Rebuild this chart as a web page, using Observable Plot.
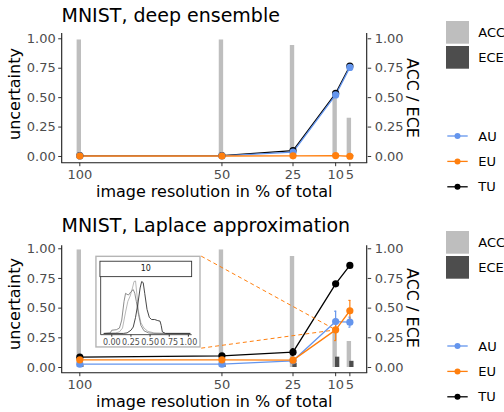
<!DOCTYPE html>
<html><head><meta charset="utf-8">
<script src="https://cdn.jsdelivr.net/npm/d3@7"></script>
<script src="https://cdn.jsdelivr.net/npm/@observablehq/plot@0.6"></script>
<style>
body{margin:0;background:#fff;font-family:"DejaVu Sans",sans-serif;}
#wrap{position:relative;width:504px;height:412px;overflow:hidden;background:#fff;}
#wrap svg.panel{position:absolute;left:0;}
</style></head><body><div id="wrap"></div>
<script>
// ---------- data ----------
const resolution = [100, 50, 25, 10, 5];
const yTicks = [0, 0.25, 0.5, 0.75, 1];
const keys = ["AU", "EU", "TU"];
const keyColors = ["#6495ed", "#ff7f0e", "#000000"];

// MNIST, deep ensemble
const ensAU = [0.005, 0.005, 0.037, 0.523, 0.757];
const ensEU = [0.004, 0.004, 0.006, 0.008, 0.002];
const ensTU = [0.007, 0.008, 0.05, 0.536, 0.769];
const ensACC = [0.99, 0.99, 0.943, 0.51, 0.325];
const ensECE = [0.003, 0.003, 0.004, 0.006, 0.005];

// MNIST, Laplace approximation
const lapAU = [0.028, 0.028, 0.056, 0.387, 0.382];
const lapEU = [0.065, 0.065, 0.062, 0.317, 0.478];
const lapTU = [0.087, 0.098, 0.129, 0.705, 0.86];
const lapAUlo = [0.022, 0.022, 0.048, 0.30, 0.34];
const lapAUhi = [0.034, 0.034, 0.064, 0.474, 0.424];
const lapEUlo = [0.058, 0.058, 0.05, 0.227, 0.39];
const lapEUhi = [0.072, 0.072, 0.075, 0.407, 0.565];
const lapTUlo = [0.082, 0.092, 0.10, 0.69, 0.85];
const lapTUhi = [0.092, 0.104, 0.158, 0.72, 0.87];
const lapACC = [0.99, 0.99, 0.935, 0.31, 0.219];
const lapECE = [0.02, 0.02, 0.035, 0.087, 0.052];

// inset: density of uncertainty at resolution 10
const insetTicks = [0, 0.25, 0.5, 0.75, 1];
const insetStrip = "10";
const densAx = [-0.1, 0.05, 0.1, 0.14, 0.18, 0.21, 0.24, 0.27, 0.29, 0.31, 0.33, 0.35, 0.38, 0.42, 0.47, 0.55, 0.7, 1.02];
const densAh = [0, 0.01, 0.03, 0.1, 0.4, 0.6, 0.7, 0.85, 0.97, 0.98, 0.7, 0.4, 0.2, 0.1, 0.04, 0.01, 0, 0];
const densBx = [-0.1, -0.02, 0.0, 0.06, 0.1, 0.13, 0.16, 0.18, 0.2, 0.22, 0.25, 0.28, 0.3, 0.32, 0.35, 0.38, 0.42, 0.48, 0.55, 1.02];
const densBh = [0, 0.01, 0.06, 0.07, 0.1, 0.25, 0.6, 0.75, 0.73, 0.72, 0.78, 0.82, 0.75, 0.6, 0.35, 0.15, 0.05, 0.01, 0, 0];
const densCx = [-0.1, 0.15, 0.2, 0.25, 0.28, 0.31, 0.34, 0.37, 0.39, 0.41, 0.43, 0.46, 0.49, 0.52, 0.56, 0.6, 0.63, 0.645, 0.66, 0.7, 1.02];
const densCh = [0, 0, 0.01, 0.06, 0.12, 0.3, 0.55, 0.85, 0.97, 0.95, 0.75, 0.45, 0.3, 0.26, 0.26, 0.24, 0.23, 0.15, 0.03, 0, 0];
// inset placement in data units of the Laplace panel (like annotation_custom)
const insetBox = {x1: 94.4, x2: 57.3, y1: 0.163, y2: 0.938};

// ---------- helpers ----------
const fmt2 = d3.format(".2f");
const FONT = "DejaVu Sans";

function buildLong(u, lo, hi) {
  const out = [];
  for (const k of ["TU", "AU", "EU"]) {
    resolution.forEach((r, i) => out.push({
      key: k, res: r, v: u[k][i],
      lo: lo ? lo[k][i] : null, hi: hi ? hi[k][i] : null
    }));
  }
  return out;
}

function drawInset(parent, sx, sy) {
  const px1 = sx(insetBox.x1), px2 = sx(insetBox.x2);
  const py1 = sy(insetBox.y2), py2 = sy(insetBox.y1);
  const iw = px2 - px1, ih = py2 - py1;
  const toRows = (xs, hs) => xs.map((x, i) => ({x, h: hs[i]}));
  const inset = Plot.plot({
    width: iw, height: ih,
    marginLeft: 5.4, marginRight: iw - 96.4, marginTop: 21.3, marginBottom: 13,
    x: {domain: [-0.139, 1.049]},
    y: {domain: [-0.032, 1.047]},
    style: {fontFamily: FONT, background: "transparent", width: iw + "px", height: ih + "px", maxWidth: "none"},
    marks: [
      Plot.line(toRows(densAx, densAh), {x: "x", y: "h", stroke: "#a6a6a6", strokeWidth: 0.8}),
      Plot.line(toRows(densBx, densBh), {x: "x", y: "h", stroke: "#6e6e6e", strokeWidth: 0.8}),
      Plot.line(toRows(densCx, densCh), {x: "x", y: "h", stroke: "#333333", strokeWidth: 0.9}),
      Plot.axisX(insetTicks, {tickFormat: fmt2, tickSize: 2, tickPadding: 2, fontSize: 8,
        label: null, stroke: "#333", fill: "#4d4d4d"}),
      Plot.axisY([], {label: null})
    ]
  });
  const isx = inset.scale("x"), isy = inset.scale("y");
  const g = d3.select(inset);
  g.insert("rect", ":first-child").attr("x", 0).attr("y", 0).attr("width", iw).attr("height", ih).attr("fill", "#fff");
  const [ax0, ax1] = isx.range, [ay0, ay1] = isy.range;
  g.append("line").attr("x1", ax0).attr("x2", ax0).attr("y1", ay1).attr("y2", ay0).attr("stroke", "#222").attr("stroke-width", 0.8);
  g.append("line").attr("x1", ax0).attr("x2", ax1).attr("y1", ay0).attr("y2", ay0).attr("stroke", "#222").attr("stroke-width", 0.8);
  g.append("rect").attr("x", 4.7).attr("y", 5.6).attr("width", 91.7).attr("height", 15.4)
    .attr("fill", "#fff").attr("stroke", "#333").attr("stroke-width", 0.9);
  g.append("text").attr("x", 50.5).attr("y", 13.3).attr("text-anchor", "middle").attr("dominant-baseline", "central")
    .attr("font-size", 8).attr("font-family", FONT).attr("fill", "#1a1a1a").text(insetStrip);
  g.append("rect").attr("x", 0.7).attr("y", 0.7).attr("width", iw - 1.4).attr("height", ih - 1.4)
    .attr("fill", "none").attr("stroke", "#b5b5b5").attr("stroke-width", 1.4);
  g.attr("x", px1).attr("y", py1).attr("overflow", "visible");
  inset.style.width = iw + "px";
  inset.style.height = ih + "px";
  inset.style.maxWidth = "none";
  parent.appendChild(inset);
}

function drawPanel(cfg) {
  const rows = resolution.map((r, i) => ({res: r, acc: cfg.acc[i], ece: cfg.ece[i]}));
  const long = buildLong(cfg.u, cfg.lo, cfg.hi);
  const marks = [
    Plot.ruleX(rows, {x: "res", y1: 0, y2: "acc", stroke: "#bebebe", strokeWidth: 4.4, dx: -1}),
    Plot.ruleX(rows, {x: "res", y1: 0, y2: "ece", stroke: "#4d4d4d", strokeWidth: 4.3, dx: 1.5}),
    Plot.axisX(resolution, {tickFormat: d => String(d), tickSize: 3.5, tickPadding: 3.5, fontSize: 13,
      label: null, stroke: "#333", fill: "#4d4d4d"}),
    Plot.axisY(yTicks, {anchor: "left", tickFormat: fmt2, tickSize: 3.5, tickPadding: 3, fontSize: 13,
      label: null, stroke: "#333", fill: "#4d4d4d"}),
    Plot.axisY(yTicks, {anchor: "right", tickFormat: fmt2, tickSize: 3.5, tickPadding: 4, fontSize: 13,
      label: null, stroke: "#333", fill: "#4d4d4d"}),
    Plot.line(long, {x: "res", y: "v", z: "key", stroke: "key", strokeWidth: 1.3})
  ];
  if (cfg.lo) {
    marks.push(Plot.ruleX(long, {x: "res", y1: "lo", y2: "hi", stroke: "key", strokeWidth: 1.2}));
    marks.push(Plot.ruleY(long, {y: "lo", x1: d => d.res + 0.35, x2: d => d.res - 0.35, stroke: "key", strokeWidth: 1.2}));
    marks.push(Plot.ruleY(long, {y: "hi", x1: d => d.res + 0.35, x2: d => d.res - 0.35, stroke: "key", strokeWidth: 1.2}));
  }
  if (cfg.inset) {
    const corners = [{x: insetBox.x2, y: insetBox.y2}, {x: insetBox.x2, y: insetBox.y1}];
    marks.push(Plot.link(corners, {x1: "x", y1: "y", x2: () => resolution[3], y2: () => lapEU[3],
      stroke: "#ff7f0e", strokeWidth: 1, strokeDasharray: "4,3"}));
  }
  marks.push(Plot.dot(long, {x: "res", y: "v", fill: "key", r: 3.6}));

  const plot = Plot.plot({
    width: 504, height: 206,
    marginLeft: 61.7, marginRight: 504 - 366.7, marginTop: cfg.mt, marginBottom: 43.3,
    x: {domain: [106.2, -1.1]},
    y: {domain: cfg.yd},
    color: {domain: keys, range: keyColors},
    style: {fontFamily: FONT, background: "transparent", overflow: "visible"},
    marks
  });
  plot.classList.add("panel");
  plot.style.top = cfg.top + "px";
  const sx = plot.scale("x"), sy = plot.scale("y");
  const svg = d3.select(plot);
  const [x0, x1] = sx.range, [y0, y1] = sy.range;
  const ax = svg.append("g").attr("stroke", "#1a1a1a").attr("stroke-width", 1.1);
  ax.append("line").attr("x1", x0).attr("x2", x0).attr("y1", y1).attr("y2", y0);
  ax.append("line").attr("x1", x1).attr("x2", x1).attr("y1", y1).attr("y2", y0);
  ax.append("line").attr("x1", x0 - 0.5).attr("x2", x1 + 0.5).attr("y1", y0).attr("y2", y0);

  if (cfg.inset) drawInset(plot, d => sx.apply(d), d => sy.apply(d));

  const t = svg.append("g").attr("font-family", FONT).attr("fill", "#000");
  t.append("text").attr("x", 61.5).attr("y", 22).attr("text-anchor", "start").attr("font-size", 19).text(cfg.title);
  t.append("text").attr("x", (x0 + x1) / 2).attr("y", 196.5).attr("text-anchor", "middle")
    .attr("font-size", 16).text("image resolution in % of total");
  t.append("text").attr("transform", "translate(20,94) rotate(-90)").attr("text-anchor", "middle")
    .attr("font-size", 16).text("uncertainty");
  t.append("text").attr("transform", "translate(406.5,98) rotate(90)").attr("text-anchor", "middle")
    .attr("font-size", 16).text("ACC / ECE");

  // legends
  const lg = svg.append("g").attr("font-family", FONT).attr("font-size", 13).attr("text-anchor", "start");
  [["ACC", "#bebebe", 21], ["ECE", "#4d4d4d", 46]].forEach(([lab, col, y]) => {
    lg.append("rect").attr("x", 446).attr("y", y).attr("width", 23).attr("height", 22.7).attr("fill", col);
    lg.append("text").attr("x", 478.3).attr("y", y + 11.4).attr("dominant-baseline", "central").text(lab);
  });
  keys.forEach((k, i) => {
    const y = 136 + i * 25.4;
    lg.append("line").attr("x1", 447.3).attr("x2", 467.7).attr("y1", y).attr("y2", y)
      .attr("stroke", keyColors[i]).attr("stroke-width", 1.3);
    lg.append("circle").attr("cx", 457.5).attr("cy", y).attr("r", 3).attr("fill", keyColors[i]);
    lg.append("text").attr("x", 478.3).attr("y", y).attr("dominant-baseline", "central").text(k);
  });
  document.getElementById("wrap").appendChild(plot);
}

drawPanel({
  title: "MNIST, deep ensemble", top: 0, mt: 33, yd: [-0.057, 1.045],
  u: {AU: ensAU, EU: ensEU, TU: ensTU}, acc: ensACC, ece: ensECE
});
drawPanel({
  title: "MNIST, Laplace approximation", top: 210, mt: 35.3, yd: [-0.048, 1.025],
  u: {AU: lapAU, EU: lapEU, TU: lapTU},
  lo: {AU: lapAUlo, EU: lapEUlo, TU: lapTUlo},
  hi: {AU: lapAUhi, EU: lapEUhi, TU: lapTUhi},
  acc: lapACC, ece: lapECE, inset: true
});
</script></body></html>
